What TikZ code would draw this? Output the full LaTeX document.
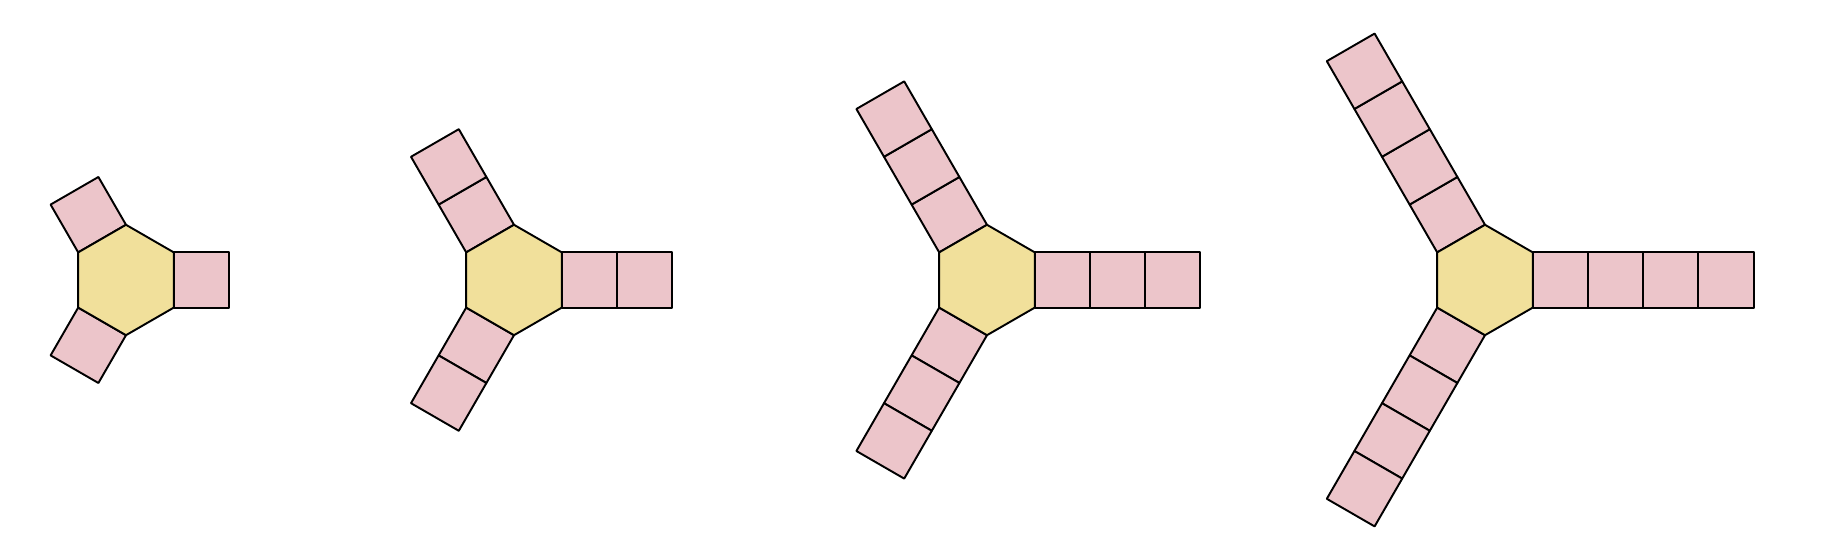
\documentclass[tikz,border=0pt]{standalone}
\definecolor{hexfill}{HTML}{F1E09B}
\definecolor{sqfill}{HTML}{ECC5CA}
\begin{document}
\begin{tikzpicture}[x=0.02cm,y=0.02cm,
  sqbox/.style={draw=black, fill=sqfill, line width=1.1pt, line join=round},
  hexbox/.style={draw=black, fill=hexfill, line width=1.1pt, line join=round}]
\useasboundingbox (0,0) rectangle (1830,560);
\pgfmathsetmacro{\s}{55.2}
\pgfmathsetmacro{\ap}{\s*sqrt(3)/2}
\foreach \cx/\n in {126/1, 514/2, 987/3, 1485/4}{
  \begin{scope}[shift={(\cx,280)}]
    \foreach \ang in {0,120,240}{
      \foreach \k in {1,...,\n}{
        \draw[sqbox, rotate=\ang] ({\ap+(\k-1)*\s},{-\s/2}) -- ({\ap+\k*\s},{-\s/2}) -- ({\ap+\k*\s},{\s/2}) -- ({\ap+(\k-1)*\s},{\s/2}) -- cycle;
      }
    }
    \draw[hexbox] (30:\s) -- (90:\s) -- (150:\s) -- (210:\s) -- (270:\s) -- (330:\s) -- cycle;
  \end{scope}
}
\end{tikzpicture}
\end{document}
